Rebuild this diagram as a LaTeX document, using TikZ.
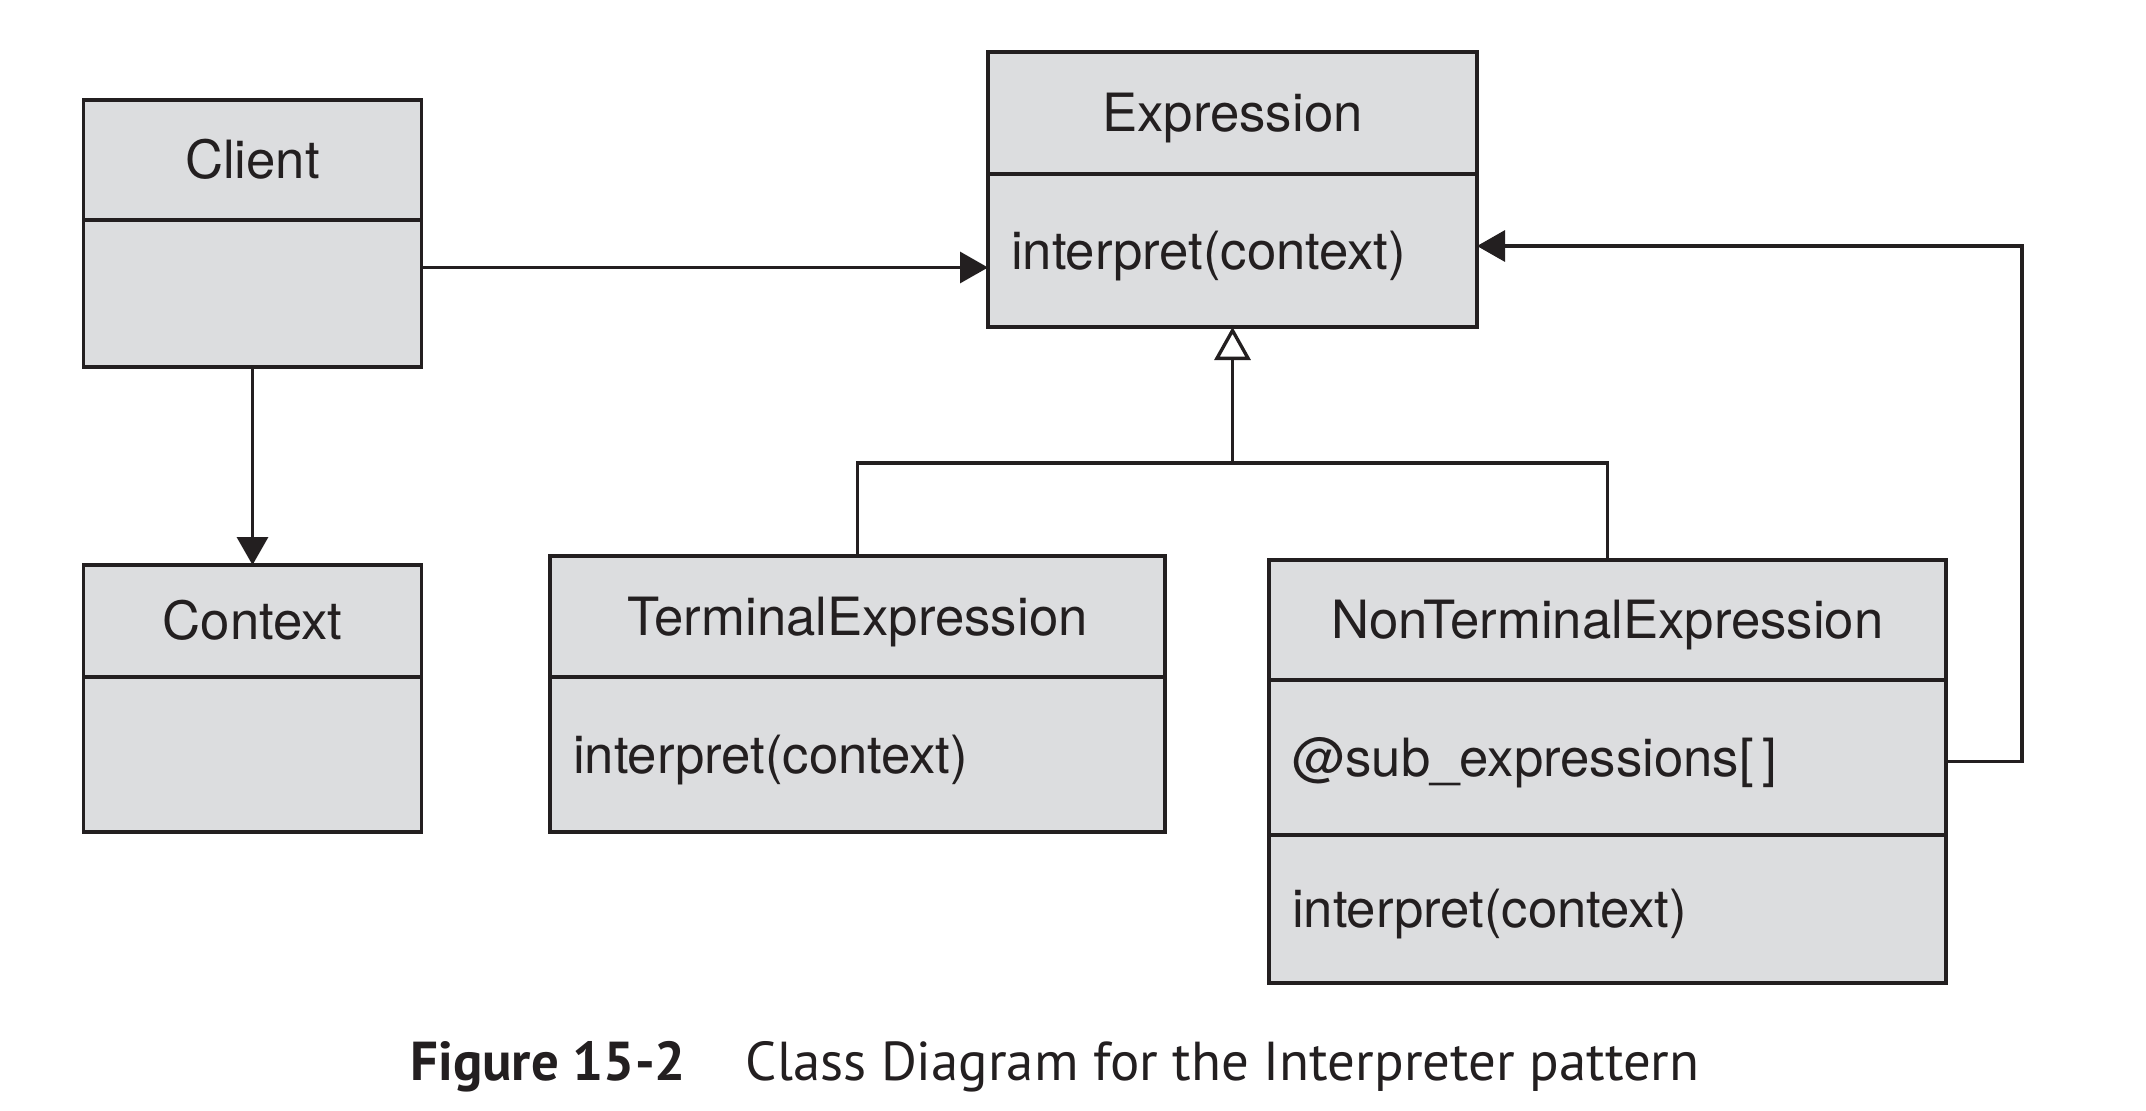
\documentclass[tikz,border=0pt]{standalone}
\usepackage{fontspec}
\setmainfont{TeX Gyre Heros}
\newfontfamily\capfont{PT Sans}
\usetikzlibrary{arrows.meta,calc}
\definecolor{boxgray}{RGB}{220,221,223}
\definecolor{inkblack}{RGB}{35,31,32}
\tikzset{
  classbox/.style={draw=inkblack, fill=boxgray, line width=1.05pt, anchor=north west, outer sep=0pt,
    inner xsep=0.23cm, inner ysep=0pt, text height=0.46cm, text depth=0.09cm,
    text=inkblack, font=\fontsize{15}{18}\selectfont},
  headbox/.style={classbox, align=center},
  partbox/.style={classbox, align=left},
  link/.style={draw=inkblack, line width=0.95pt},
  assoc/.style={link, -{Triangle[length=0.28cm,width=0.31cm]}},
  inherit/.style={link, -{Triangle[open,length=0.33cm,width=0.36cm,fill=white]}},
}
\begin{document}
\begin{tikzpicture}
    \useasboundingbox[fill=white] (0,0) rectangle (21.46,11.10);

    % Client and Context
    \node[headbox, text width=2.92cm, minimum height=1.20cm] (client) at (0.835,10.10) {Client};
    \node[partbox, text width=2.92cm, minimum height=1.47cm] (client-b) at (client.south west) {};
    \node[headbox, text width=2.92cm, minimum height=1.12cm] (context) at (0.835,5.45) {Context};
    \node[partbox, text width=2.92cm, minimum height=1.55cm] (context-b) at (context.south west) {};

    % Expression
    \node[headbox, text width=4.43cm, minimum height=1.22cm] (expr) at (9.88,10.58) {Expression};
    \node[partbox, text width=4.43cm, minimum height=1.53cm] (expr-b) at (expr.south west) {interpret(context)};

    % TerminalExpression
    \node[headbox, text width=5.69cm, minimum height=1.21cm] (term) at (5.50,5.54) {TerminalExpression};
    \node[partbox, text width=5.69cm, minimum height=1.55cm] (term-b) at (term.south west) {interpret(context)};

    % NonTerminalExpression
    \node[headbox, text width=6.31cm, minimum height=1.20cm] (nonterm) at (12.69,5.50) {NonTerminalExpression};
    \node[partbox, text width=6.31cm, minimum height=1.55cm] (nonterm-a) at (nonterm.south west) {@sub\_expressions[\,]};
    \node[partbox, text width=6.31cm, minimum height=1.48cm] (nonterm-b) at (nonterm-a.south west) {interpret(context)};

    % Associations
    \draw[assoc] ([yshift=2.6mm]client-b.east) -- ([yshift=2.6mm]client-b.east -| expr-b.west);
    \draw[assoc] (client-b.south) -- (context.north);
    \draw[assoc] ([yshift=-0.4mm]nonterm-a.east) -- ++(0.76,0) |- ([yshift=0.45mm]expr-b.east);

    % Inheritance
    \coordinate (fork) at ($(expr-b.south)+(0,-1.36)$);
    \draw[link] (term.north) |- (fork) -| (nonterm.north);
    \draw[inherit] (fork) -- (expr-b.south);

    % Caption
    \node[font=\capfont\fontsize{15.6}{18}\selectfont, text=inkblack] (caption) at (10.55,0.43)
        {\textbf{Figure 15-2}\hspace{0.6cm}Class Diagram for the Interpreter pattern};
\end{tikzpicture}
\end{document}
